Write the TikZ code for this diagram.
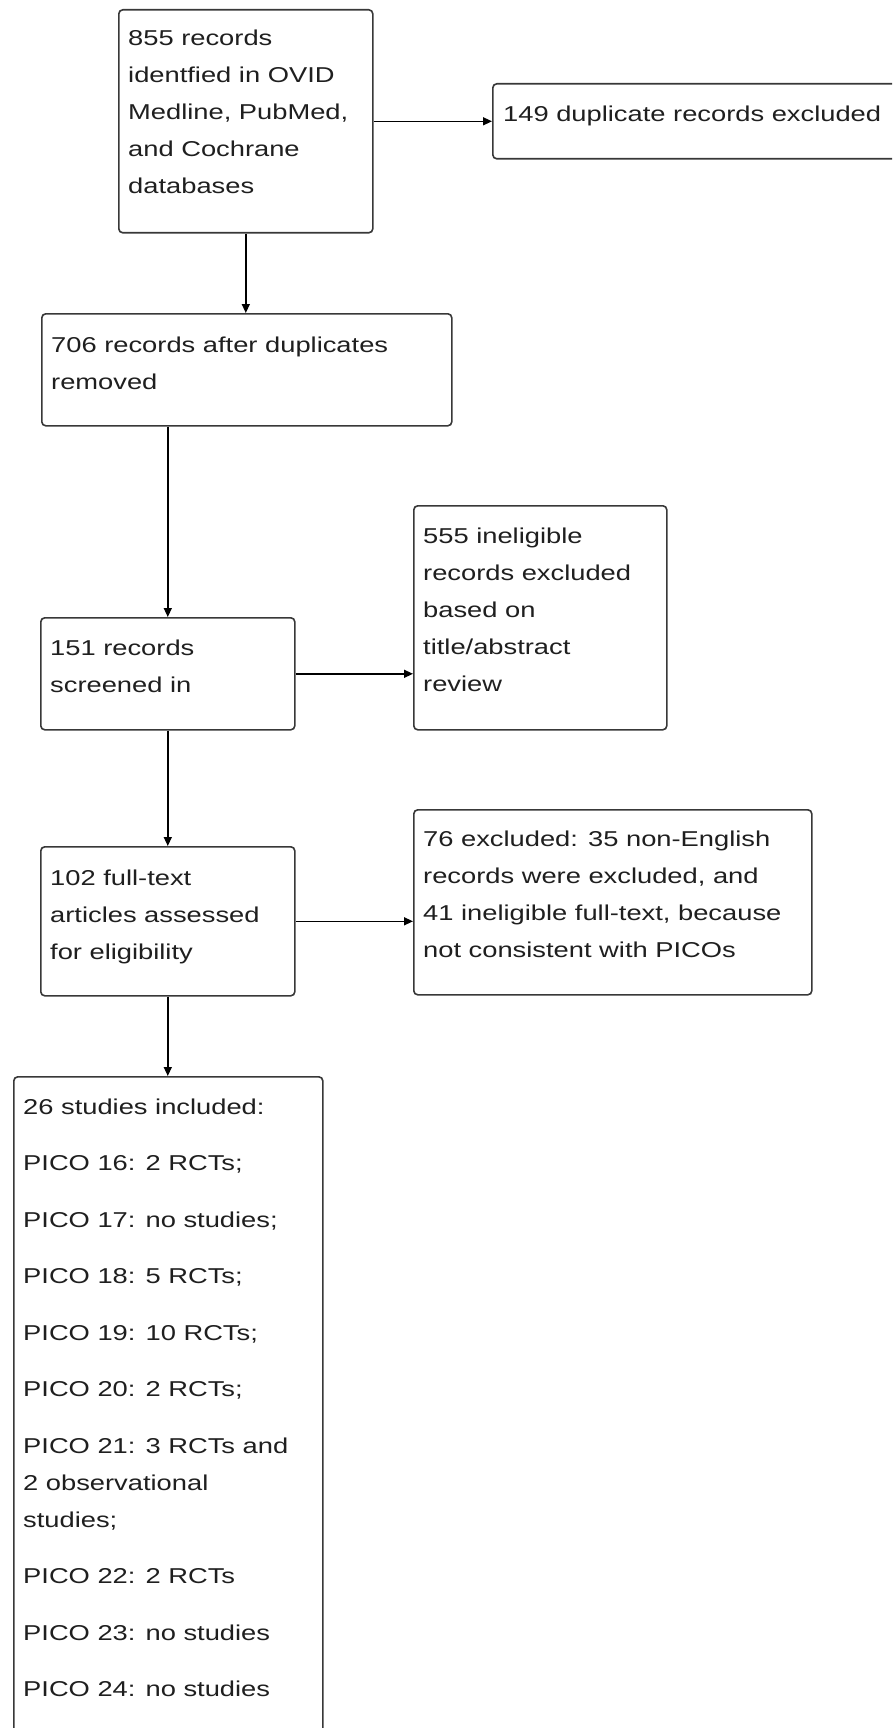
\documentclass[tikz,border=0pt]{standalone}
\usepackage{fontspec}
\setmainfont{Liberation Sans}[FakeStretch=1.27]
\usetikzlibrary{arrows.meta}
\begin{document}
\begin{tikzpicture}[x=1pt,y=-1pt,
  box/.style={draw=black!78, line width=1.6pt, rounded corners=4pt, inner sep=0pt, anchor=north west},
  txt/.style={inner sep=0pt, anchor=base west, text=black!88, font=\fontsize{21.5pt}{37pt}\selectfont},
  conn/.style={draw=black, line width=1.4pt, -{Triangle[length=9pt,width=8pt]}}]
\useasboundingbox (0,0) rectangle (892,1728);
\clip (0,0) rectangle (892,1728);
\fill[white] (0,0) rectangle (892,1728);
% boxes
\node[box, minimum width=254pt, minimum height=223pt] (A) at (118,9) {};
\node[box, minimum width=420pt, minimum height=75pt] (B) at (492,83) {};
\node[box, minimum width=410pt, minimum height=112pt] (C) at (41,313) {};
\node[box, minimum width=254pt, minimum height=112pt] (D) at (40,617) {};
\node[box, minimum width=253pt, minimum height=224pt] (E) at (413,505) {};
\node[box, minimum width=254pt, minimum height=149pt] (F) at (40,846) {};
\node[box, minimum width=398pt, minimum height=185pt] (G) at (413,809) {};
\node[box, minimum width=309pt, minimum height=700pt] (H) at (13,1076) {};
% texts
\node[txt] (At) at (128,46) {\parbox[t]{300pt}{855 records\\identfied in OVID\\Medline, PubMed,\\and Cochrane\\databases}};
\node[txt] (Bt) at (503,122) {\parbox[t]{400pt}{149 duplicate records excluded}};
\node[txt] (Ct) at (51,352) {\parbox[t]{400pt}{706 records after duplicates\\removed}};
\node[txt] (Dt) at (50,655) {\parbox[t]{240pt}{151 records\\screened in}};
\node[txt] (Et) at (423,543) {\parbox[t]{240pt}{555 ineligible\\records excluded\\based on\\title/abstract\\review}};
\node[txt] (Ft) at (50,885) {\parbox[t]{240pt}{102 full-text\\articles assessed\\for eligibility}};
\node[txt] (Gt) at (423,846) {\parbox[t]{390pt}{76 excluded: 35 non-English\\records were excluded, and\\41 ineligible full-text, because\\not consistent with PICOs}};
\node[txt] (Ht) at (23,1114) {\parbox[t]{300pt}{26 studies included:\\[19.5pt]
PICO 16: 2 RCTs;\\[19.5pt]
PICO 17: no studies;\\[19.5pt]
PICO 18: 5 RCTs;\\[19.5pt]
PICO 19: 10 RCTs;\\[19.5pt]
PICO 20: 2 RCTs;\\[19.5pt]
PICO 21: 3 RCTs and\\2 observational\\studies;\\[19.5pt]
PICO 22: 2 RCTs\\[19.5pt]
PICO 23: no studies\\[19.5pt]
PICO 24: no studies}};
% connectors
\draw[conn] (A.east) -- (A.east -| B.west);
\draw[conn] (A.south) -- (A.south |- C.north);
\draw[conn] (C.south -| D.north) -- (D.north);
\draw[conn] (D.east) -- (D.east -| E.west);
\draw[conn] (D.south) -- (F.north);
\draw[conn] (F.east) -- (F.east -| G.west);
\draw[conn] (F.south) -- (F.south |- H.north);
\end{tikzpicture}
\end{document}
